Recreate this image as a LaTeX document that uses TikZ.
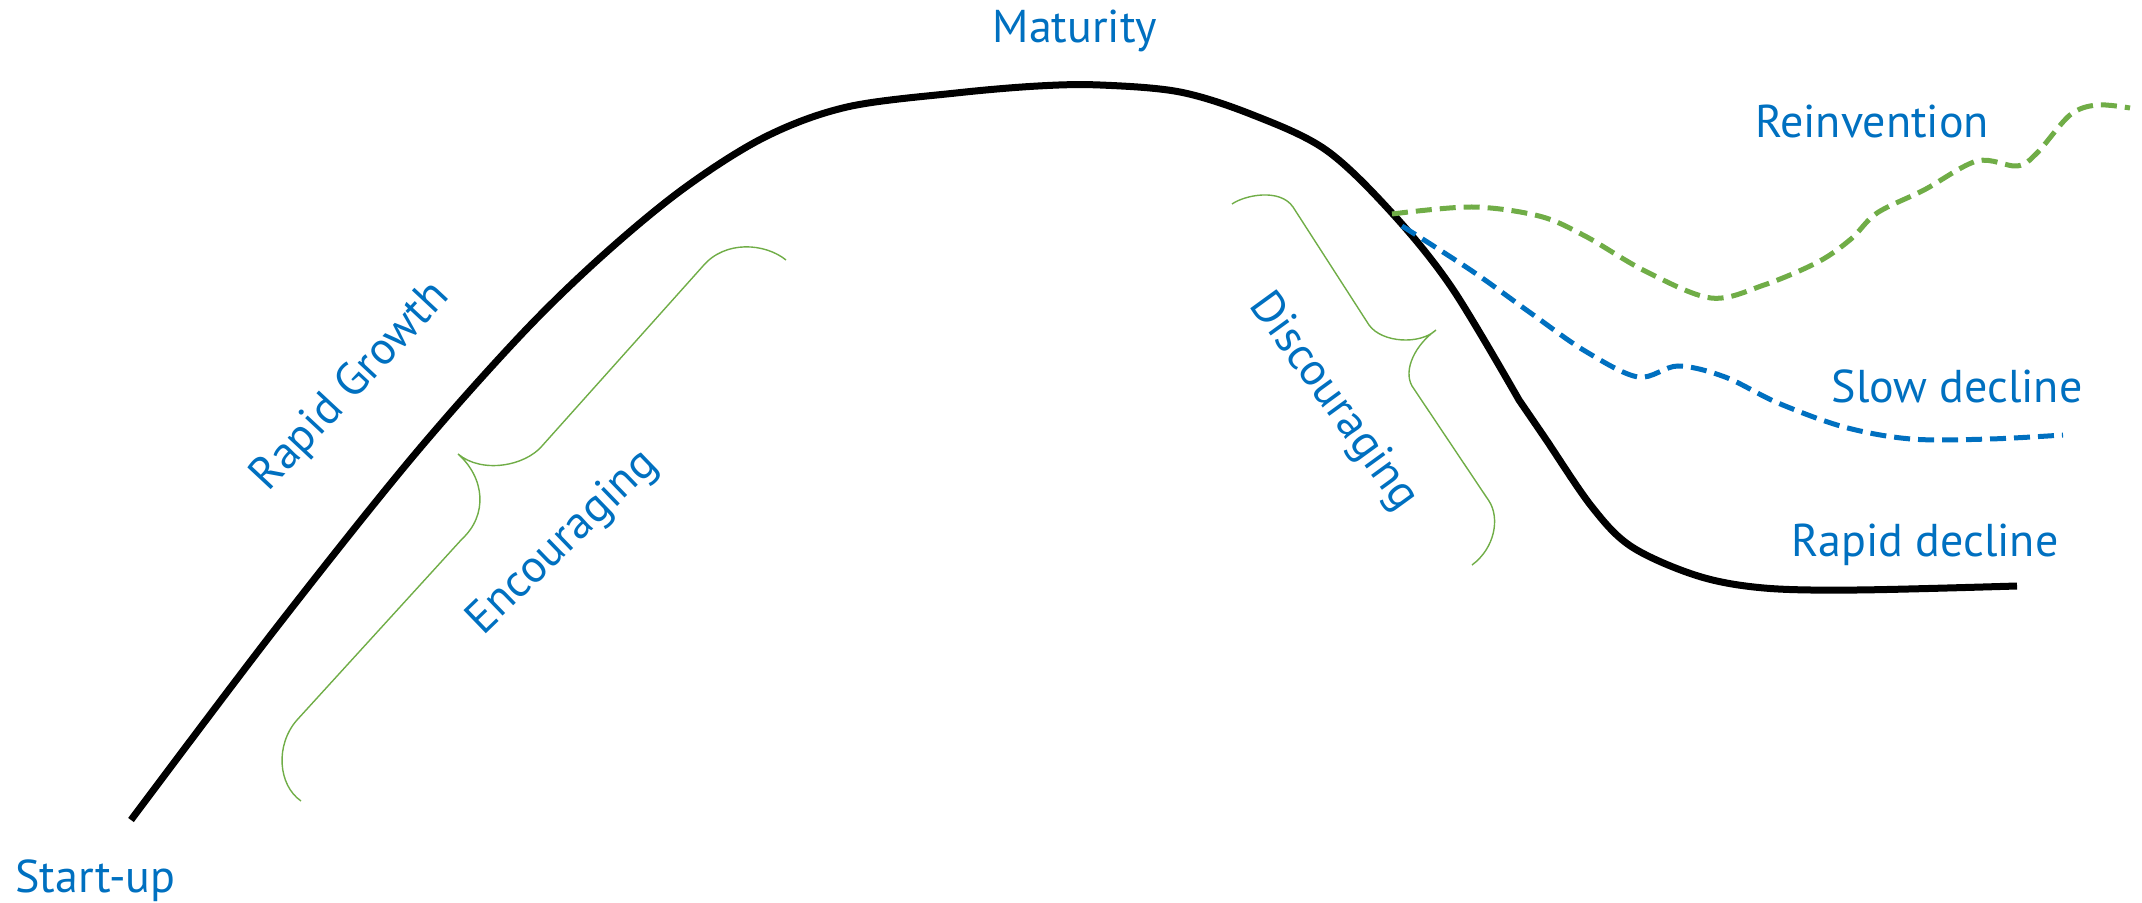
\documentclass[tikz,border=0pt]{standalone}
\usepackage{fontspec}
\setmainfont{PT Sans}
\definecolor{lblue}{HTML}{0070C0}
\definecolor{lgreen}{HTML}{70AD47}
\begin{document}
\begin{tikzpicture}[x=0.5pt,y=-0.5pt,
  lbl/.style={text=lblue,font=\fontsize{23}{27}\selectfont,inner sep=0pt},
  maincurve/.style={line width=3.5pt,black},
  dashline/.style={line width=2.5pt,dash pattern=on 8pt off 4pt},
  bracel/.style={line width=0.7pt,lgreen}]
\useasboundingbox (0,0) rectangle (2142,903);
% main life-cycle curve
\draw[maincurve] plot[smooth,tension=0.55] coordinates {(131,820) (273,632) (410,460) (519,337) (601,257) (683,189) (765,137) (847,107) (956,93) (1038,86) (1100,85) (1180,92) (1253,115) (1326,150) (1392,213) (1452,288) (1519,400)}
  -- plot[smooth,tension=0.55] coordinates {(1519,400) (1545,438) (1592,507) (1632,547) (1698,576) (1764,588) (1857,590) (2017,586)};
% reinvention
\draw[dashline,lgreen] plot[smooth,tension=0.55] coordinates {(1392,214) (1472,207) (1539,216) (1585,236) (1645,271) (1711,298) (1764,285) (1818,262) (1851,239) (1877,213) (1924,190) (1977,161) (2017,166) (2037,153) (2070,115) (2097,105) (2130,108)};
% slow decline
\draw[dashline,lblue] plot[smooth,tension=0.55] coordinates {(1402,226) (1472,271) (1532,314) (1585,351) (1638,377) (1678,366) (1725,377) (1778,403) (1844,427) (1911,439) (1990,439) (2063,435)};
% braces
\draw[bracel] (786,260) .. controls (765,243) and (725,240) .. (703,266) -- (542,446) .. controls (525,466) and (482,474) .. (458,454) .. controls (485,478) and (488,515) .. (462,539) -- (297,720) .. controls (275,745) and (278,785) .. (301,801);
\draw[bracel] (1232,204) .. controls (1245,195) and (1280,188) .. (1293,207) -- (1369,325) .. controls (1382,343) and (1420,345) .. (1436,330) .. controls (1415,345) and (1403,370) .. (1412,386) -- (1489,501) .. controls (1500,518) and (1495,548) .. (1472,565);
% labels
\node[lbl,anchor=base west] (startup) at (15,892) {Start-up};
\node[lbl,anchor=base] (maturity) at (1075,43) {Maturity};
\node[lbl,anchor=base] (reinv) at (1872,138) {Reinvention};
\node[lbl,anchor=base] (slow) at (1957,403) {Slow decline};
\node[lbl,anchor=base] (rapidd) at (1925,556) {Rapid decline};
\node[lbl,rotate=47] (rapidg) at (351,387) {Rapid Growth};
\node[lbl,rotate=44] (enc) at (563,543) {Encouraging};
\node[lbl,rotate=-54] (disc) at (1333,402) {Discouraging};
\end{tikzpicture}
\end{document}
